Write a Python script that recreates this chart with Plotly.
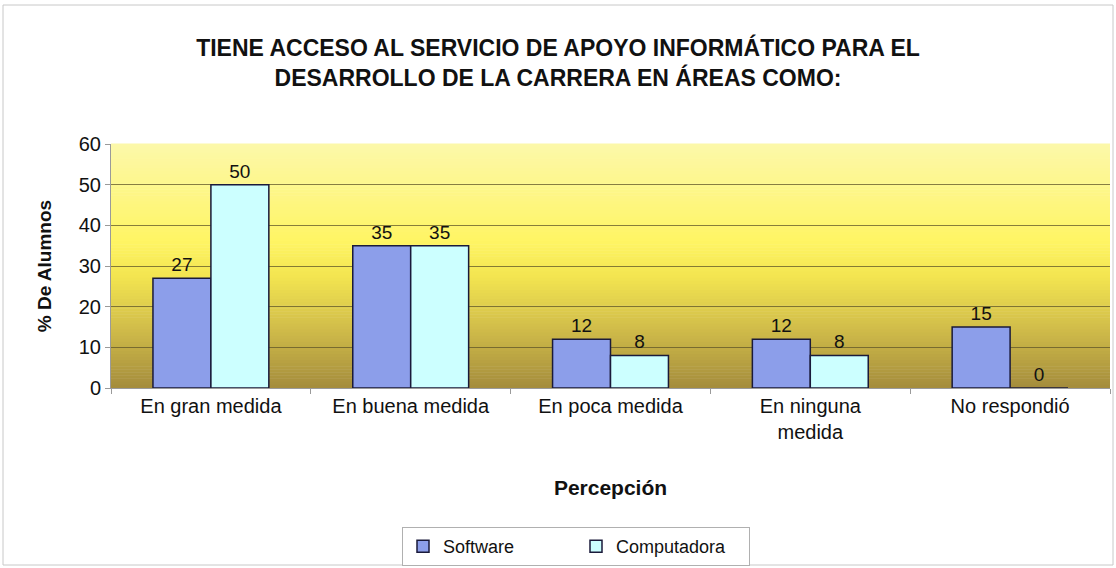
import plotly.graph_objects as go

categories = ["En gran medida", "En buena medida", "En poca medida", "En ninguna<br>medida", "No respondió"]
software = [27, 35, 12, 12, 15]
computadora = [50, 35, 8, 8, 0]
y_ticks = [0, 10, 20, 30, 40, 50, 60]

W, H = 1116, 568
ML, MR, MT, MB = 111, 6, 144, 180

FONT = "Liberation Sans, Arial, sans-serif"

fig = go.Figure()
fig.add_trace(go.Bar(
    name="Software", x=categories, y=software,
    marker=dict(color="#8C9EEA", line=dict(color="#1a1a3a", width=1.5)),
    text=software, textposition="outside", cliponaxis=False,
    textfont=dict(size=19, color="#111", family=FONT),
))
fig.add_trace(go.Bar(
    name="Computadora", x=categories, y=computadora,
    marker=dict(color="#CCFFFF", line=dict(color="#1a1a3a", width=1.5)),
    text=computadora, textposition="outside", cliponaxis=False,
    textfont=dict(size=19, color="#111", family=FONT),
))

# vertical gradient background (stripes)
stops = [(0.0, (252, 248, 170)), (0.4, (255, 245, 100)), (0.55, (242, 228, 80)),
         (0.75, (210, 190, 74)), (1.0, (164, 140, 60))]

def col_at(t):
    for (t0, c0), (t1, c1) in zip(stops[:-1], stops[1:]):
        if t0 <= t <= t1:
            f = (t - t0) / (t1 - t0) if t1 > t0 else 0
            return "rgb(%d,%d,%d)" % tuple(round(a + (b - a) * f) for a, b in zip(c0, c1))
    return "rgb(%d,%d,%d)" % stops[-1][1]

N = 80
shapes = []
for i in range(N):
    t = (i + 0.5) / N  # from top
    shapes.append(dict(type="rect", xref="x domain", yref="y domain",
                       x0=0, x1=1, y0=1 - (i + 1) / N, y1=1 - i / N + 0.002,
                       fillcolor=col_at(t), line=dict(width=0), layer="below"))

pw = W - ML - MR
ph = H - MT - MB
shapes.append(dict(type="rect", xref="paper", yref="paper",
                   x0=(3 - ML) / pw, x1=(W - 3 - ML) / pw,
                   y0=(H - MB - (H - 3)) / ph, y1=(H - MB - 5) / ph,
                   line=dict(color="#c8c8c8", width=1), fillcolor="rgba(0,0,0,0)", layer="below"))

fig.update_layout(
    width=W, height=H,
    margin=dict(l=ML, r=MR, t=MT, b=MB, autoexpand=False),
    paper_bgcolor="white", plot_bgcolor="rgba(0,0,0,0)",
    font=dict(family=FONT, color="#111"),
    title=dict(text="<b>TIENE ACCESO AL SERVICIO DE APOYO INFORMÁTICO PARA EL<br>DESARROLLO DE LA CARRERA EN ÁREAS COMO:</b>",
               x=0.5, xanchor="center", xref="container", y=1 - 56 / H, yanchor="middle", yref="container",
               font=dict(size=23, family=FONT, color="#111")),
    barmode="group", bargap=0.42, bargroupgap=0,
    shapes=shapes,
    showlegend=True,
    legend=dict(orientation="h", x=(576 - ML) / pw,
                xanchor="center", y=(H - MB - 527) / ph, yanchor="top",
                bordercolor="#b0b0b0", borderwidth=1, bgcolor="white",
                font=dict(size=18, family=FONT, color="#111"),
                entrywidth=128, entrywidthmode="pixels", itemwidth=30),
    xaxis=dict(
        title=dict(text="<b>Percepción</b>", font=dict(size=21, family=FONT, color="#111"), standoff=38),
        tickfont=dict(size=20, family=FONT, color="#111"),
        showline=True, linecolor="#9a9a9a", linewidth=1,
        ticks="outside", ticklen=5, tickcolor="#9a9a9a", tickson="boundaries",
        showgrid=False, automargin=False,
    ),
    yaxis=dict(
        title=dict(text="<b>% De Alumnos</b>", font=dict(size=19, family=FONT, color="#111"), standoff=22),
        tickfont=dict(size=20, family=FONT, color="#111"),
        range=[0, 60], tickvals=y_ticks, ticktext=[str(v) for v in y_ticks],
        showline=True, linecolor="#9a9a9a", linewidth=1,
        ticks="outside", ticklen=5, tickcolor="#9a9a9a",
        showgrid=True, gridcolor="rgba(95,85,40,0.75)", gridwidth=1,
        zeroline=False, automargin=False,
    ),
)

fig.write_html("out.html", config={"displayModeBar": False},
               post_script="document.body.style.margin='0';document.body.style.overflow='hidden';")
